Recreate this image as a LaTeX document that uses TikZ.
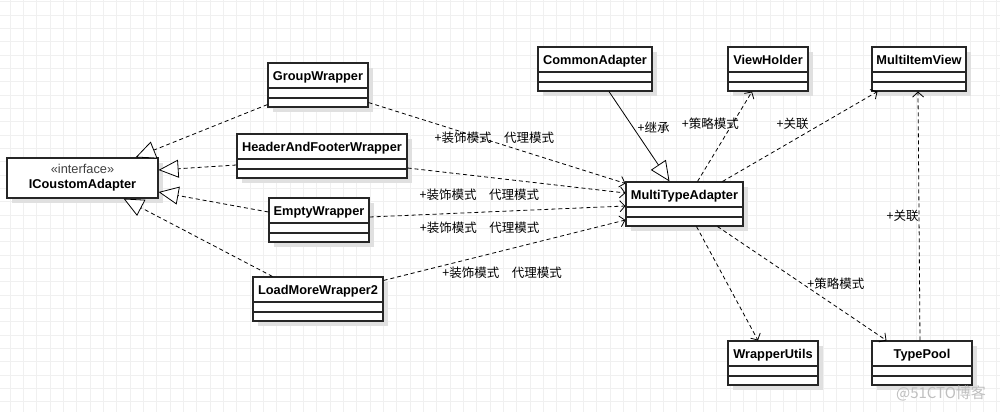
\documentclass[tikz,border=0pt]{standalone}
\usepackage{fontspec}
\setmainfont{Liberation Sans}
\newfontfamily\cjk{Noto Sans CJK SC}
\usepackage{tikz}
\usetikzlibrary{arrows.meta,shadows}
\tikzset{
    gridline/.style={draw=black!6, line width=0.8pt},
    classbox/.style={draw=black!85, line width=1.1pt, fill=white, inner xsep=4pt, inner ysep=0pt,
        text height=17pt, text depth=27pt, font=\fontsize{12.8}{15}\selectfont\bfseries,
        drop shadow={shadow xshift=5pt, shadow yshift=-5pt, fill=black!12, opacity=1},
        path picture={
            \draw[line width=1.1pt] ([yshift=-25pt]path picture bounding box.north west) -- ([yshift=-25pt]path picture bounding box.north east);
            \draw[line width=1.1pt] ([yshift=-35pt]path picture bounding box.north west) -- ([yshift=-35pt]path picture bounding box.north east);
        }},
    interfacebox/.style={draw=black!85, line width=1.1pt, fill=white, minimum width=151pt, minimum height=40pt,
        align=center, font=\fontsize{12.8}{15}\selectfont,
        drop shadow={shadow xshift=5pt, shadow yshift=-5pt, fill=black!12, opacity=1}},
    realize/.style={draw, line width=0.8pt, dash pattern=on 4pt off 3pt, -{Triangle[length=20pt, width=18pt, fill=white]}},
    inherit/.style={draw, line width=0.8pt, -{Triangle[length=20pt, width=18pt, fill=white]}},
    depend/.style={draw, line width=0.8pt, dash pattern=on 4pt off 3pt, -{Straight Barb[length=5pt, width=11pt]}},
    lbl/.style={font=\cjk\fontsize{12.5}{14}\selectfont, inner sep=0pt},
    watermark/.style={font=\cjk\fontsize{15}{17}\selectfont, text=black!25}
}

\begin{document}
\begin{tikzpicture}[x=1pt, y=-1pt]
    % Canvas and background grid
    \useasboundingbox[fill=white] (0,0) rectangle (1000,412);
    \foreach \k in {0,...,75} \draw[gridline] ({-3.33+13.333*\k},0) -- ++(0,412);
    \foreach \k in {0,...,31} \draw[gridline] (0,{1.67+13.333*\k}) -- ++(1000,0);

    % Interface and wrapper classes on the left
    \node[interfacebox] (iface) at (82.5,178) {{\color{black!75}«interface»}\\\textbf{ICoustomAdapter}};
    \node[classbox, minimum width=100pt] (groupW) at (318,85) {GroupWrapper};
    \node[classbox, minimum width=170pt] (headerW) at (322,156) {HeaderAndFooterWrapper};
    \node[classbox, minimum width=100pt] (emptyW) at (319,220) {EmptyWrapper};
    \node[classbox, minimum width=130pt] (loadW) at (318,299) {LoadMoreWrapper2};

    % Adapter in the middle, helpers on the right
    \node[classbox, minimum width=114pt] (common) at (595,69) {CommonAdapter};
    \node[classbox, minimum width=117pt] (multiType) at (684.5,204) {MultiTypeAdapter};
    \node[classbox, minimum width=80pt] (viewHolder) at (768,69) {ViewHolder};
    \node[classbox, minimum width=94pt] (itemView) at (919,69) {MultiItemView};
    \node[classbox, minimum width=90pt] (wrapUtils) at (773,363) {WrapperUtils};
    \node[classbox, minimum width=100pt] (typePool) at (922,363) {TypePool};

    % Wrappers realize the interface
    \draw[realize] ([yshift=3pt]groupW.south west) -- ([xshift=-23pt]iface.north east);
    \draw[realize] ([yshift=-9pt]headerW.west) -- ([yshift=8pt]iface.east);
    \draw[realize] ([yshift=8pt]emptyW.west) -- ([yshift=-14pt]iface.east);
    \draw[realize] ([xshift=20pt]loadW.north west) -- ([xshift=-35pt]iface.south east);

    % Wrappers wrap the adapter
    \draw[depend] ([yshift=5pt]groupW.south east) -- node[lbl, pos=0.49, yshift=4pt] {+装饰模式\quad 代理模式} ([yshift=-2pt]multiType.north west);
    \draw[depend] ([yshift=-12pt]headerW.east) -- node[lbl, pos=0.33, yshift=-19pt] {+装饰模式\quad 代理模式} ([yshift=11pt]multiType.west);
    \draw[depend] ([yshift=3pt]emptyW.east) -- node[lbl, pos=0.43, yshift=-16pt] {+装饰模式\quad 代理模式} ([yshift=-2pt]multiType.west);
    \draw[depend] ([yshift=-4pt]loadW.north east) -- node[lbl, pos=0.49, yshift=-22pt] {+装饰模式\quad 代理模式} ([yshift=-16pt]multiType.west);

    % Inheritance and associations of the adapter
    \draw[inherit] ([xshift=14pt]common.south) -- node[lbl, pos=0.4, anchor=west, xshift=4pt] {+继承} ([xshift=-15pt]multiType.north);
    \draw[depend] ([xshift=13pt]multiType.north) -- node[lbl, pos=0.64, xshift=-22pt] {+策略模式} ([xshift=-16pt]viewHolder.south);
    \draw[depend] ([xshift=38pt]multiType.north) -- node[lbl, pos=0.64, xshift=-29pt] {+关联} ([xshift=6pt]itemView.south west);
    \draw[depend] ([xshift=12pt]multiType.south) -- ([xshift=-15pt]wrapUtils.north);
    \draw[depend] ([xshift=33pt]multiType.south) -- node[lbl, pos=0.5, anchor=west, xshift=5pt] {+策略模式} ([xshift=15pt]typePool.north west);
    \draw[depend] ([xshift=-2pt]typePool.north) -- node[lbl, pos=0.5, anchor=east] {+关联} ([xshift=-1pt]itemView.south);

    \node[watermark] (mark) at (941,393) {@51CTO博客};
\end{tikzpicture}
\end{document}
